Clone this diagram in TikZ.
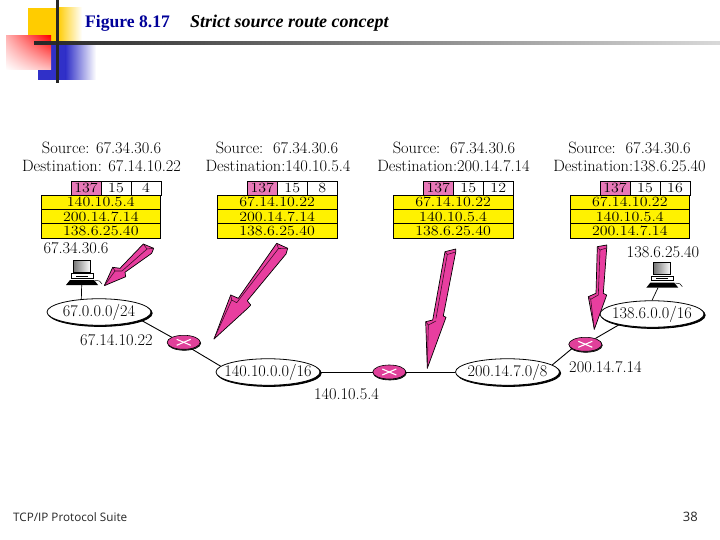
\documentclass[tikz,border=0pt]{standalone}
\usepackage{fontspec}
\usetikzlibrary{shapes.geometric,shadows,shadings}
\newfontfamily\titlefont{Liberation Serif}
\newfontfamily\footfont{Open Sans}
\newfontfamily\widelm[FakeStretch=1.14]{Latin Modern Roman}
\newcommand{\netlabel}[1]{\makebox[0pt]{#1}}
\definecolor{navyt}{HTML}{000099}
\definecolor{cellpink}{HTML}{E878B8}
\definecolor{arrowpink}{HTML}{E83E9F}
\definecolor{rpink}{HTML}{E0409A}
\definecolor{decoy}{HTML}{FFCC00}
\definecolor{decob}{HTML}{3030C8}
\tikzset{
  txt/.style={inner sep=0pt,font=\fontsize{16.4}{16.4}\selectfont},
  cell/.style={draw=black,line width=.8pt,inner sep=0pt,outer sep=0pt,anchor=north west,font=\widelm\fontsize{14}{14}\selectfont},
  opt/.style={cell,minimum width=30pt,minimum height=14pt},
  addr/.style={cell,fill=yellow,minimum width=119.6pt,minimum height=14.3pt},
  net/.style={ellipse,draw=black,fill=white,line width=.8pt,inner sep=0pt,minimum width=104pt,minimum height=26.5pt,
     font=\fontsize{16.3}{16.3}\selectfont,copy shadow={shadow xshift=1.2pt,shadow yshift=-1.2pt,fill=black,draw=black}},
  router/.style={ellipse,draw=black,fill=rpink,line width=.6pt,inner sep=0pt,minimum width=33pt,minimum height=14pt,
     copy shadow={shadow xshift=.5pt,shadow yshift=-1pt,fill=black!80,draw=black}},
  link/.style={draw=black,line width=.9pt},
  bolt/.style={draw=black,fill=arrowpink,line width=.7pt,line join=round},
  ridge/.style={draw=black!75!arrowpink,line width=.6pt},
  xmark/.style={draw=white,line width=1.1pt}
}
\newcommand{\pktable}[6]{%
  \begin{scope}[shift={(#2,181)}]
    \node[opt,fill=cellpink] (#1p) at (30,0) {137};
    \node[opt,fill=white] (#1l) at (60,0) {15};
    \node[opt,fill=white] (#1o) at (90,0) {#3};
    \node[addr] (#1a) at (0,14.2) {#4};
    \node[addr] (#1b) at (0,28.5) {#5};
    \node[addr] (#1c) at (0,42.8) {#6};
  \end{scope}}
\newcommand{\desktop}[3]{%
  \begin{scope}[shift={(#2,#3)}]
    \shade[left color=black!55,right color=white,draw=black,line width=.7pt] (2,0) rectangle (19.5,12);
    \draw[black,line width=.7pt,fill=white] (0,13.5) rectangle (22,18);
    \draw[black,line width=.6pt] (5,15.8) -- (17,15.8);
    \fill[black] (-5,25) -- (-1,20) -- (23,20) -- (27,25) -- cycle;
    \draw[black,line width=.5pt] (24,20.5) .. controls (28,20.5) and (30,21) .. (31,24);
    \coordinate (#1) at (10.7,25);
  \end{scope}}
\newcommand{\routerx}[1]{%
  \draw[xmark] ([xshift=-7pt,yshift=3pt]#1.center) -- ([xshift=7pt,yshift=-3pt]#1.center);
  \draw[xmark] ([xshift=-7pt,yshift=-3pt]#1.center) -- ([xshift=7pt,yshift=3pt]#1.center);}
\begin{document}
\begin{tikzpicture}[x=1pt,y=-1pt]
\useasboundingbox (0,0) rectangle (720,540);
\fill[white] (0,0) rectangle (720,540);
% corner decoration
\fill[decoy] (28,8) rectangle (58,43);
\shade[left color=decoy,right color=white] (57.5,8) rectangle (82,43);
\fill[decob] (38,45) rectangle (66,80);
\shade[left color=decob,right color=white] (65.5,45) rectangle (96,80);
\shade[upper left=red!30,upper right=red,lower left=white,lower right=red!25] (6,36) rectangle (51,70);
\shade[left color=black!85,right color=black!15] (34,41.5) rectangle (720,44.5);
\fill[black!85] (55.5,0) rectangle (58.5,83);
% title
\node[inner sep=0pt,anchor=base west,font=\titlefont\bfseries\fontsize{17.6}{17.6}\selectfont,text=navyt] (fig) at (85,28) {Figure 8.17};
\node[inner sep=0pt,anchor=base west,font=\titlefont\bfseries\itshape\fontsize{18}{18}\selectfont] (cap) at (190,28) {Strict source route concept};
% headers
\node[txt] (s1) at (101.5,148) {Source: 67.34.30.6};
\node[txt] (d1) at (101.5,166) {Destination: 67.14.10.22};
\node[txt] (s2) at (277,148) {Source:\ \ 67.34.30.6};
\node[txt] (d2) at (278,166) {Destination:140.10.5.4};
\node[txt] (s3) at (454,148) {Source:\ \ 67.34.30.6};
\node[txt] (d3) at (453.5,166) {Destination:200.14.7.14};
\node[txt] (s4) at (629.5,148) {Source:\ \ 67.34.30.6};
\node[txt] (d4) at (629.5,166) {Destination:138.6.25.40};
% tables
\pktable{ta}{41}{4}{140.10.5.4}{200.14.7.14}{138.6.25.40}
\pktable{tb}{217.3}{8}{67.14.10.22}{200.14.7.14}{138.6.25.40}
\pktable{tc}{393.3}{12}{67.14.10.22}{140.10.5.4}{138.6.25.40}
\pktable{td}{570}{16}{67.14.10.22}{140.10.5.4}{200.14.7.14}
% network
\node[net] (n1) at (99,312) {\netlabel{67.0.0.0/24}};
\node[net] (n2) at (268,372) {\netlabel{140.10.0.0/16}};
\node[net] (n3) at (507.5,372) {\netlabel{200.14.7.0/8}};
\node[net] (n4) at (652,314) {\netlabel{138.6.0.0/16}};
\node[router] (r1) at (183.7,342.3) {};
\node[router] (r2) at (389.3,372) {};
\node[router] (r3) at (585.3,344.3) {};
\routerx{r1}\routerx{r2}\routerx{r3}
\draw[link] (n1.-11) -- (r1.157);
\draw[link] (r1.-40) -- (n2.173);
\draw[link] (n2.east) -- (r2.west);
\draw[link] (r2.east) -- (n3.west);
\draw[link] (n3.9) -- (r3.198);
\draw[link] (r3.30) -- (n4.198);
% hosts
\desktop{h1}{71}{260}
\desktop{h2}{651.3}{262.7}
\draw[link,line width=.7pt] (h1) -- (n1.144.5);
\draw[link,line width=.7pt] ([xshift=-4pt]h2) -- (n4.north);
% address labels
\node[txt] (l1) at (76,248) {67.34.30.6};
\node[txt] (l2) at (663,252) {138.6.25.40};
\node[txt] (l3) at (116.5,340) {67.14.10.22};
\node[txt] (l4) at (346.5,394) {140.10.5.4};
\node[txt] (l5) at (605.5,367) {200.14.7.14};
% pointer arrows
\draw[bolt] (104.3,285.7) -- (112.7,267.3) -- (120,268.3) -- (143.3,244) -- (153.7,248.3) -- (151.7,253.3) -- (125,272.3) -- (125.7,276.7) -- cycle;
\draw[ridge] (147,249) -- (143.3,244) (147,249) -- (153.7,248.3) (147,249) -- (122,271) (112.7,267.3) -- (115,271) -- (104.3,285.7) (115,271) -- (122,271);
\draw[bolt] (214,339) -- (230.7,295) -- (238.3,298.3) -- (276.7,243.3) -- (287.7,248.3) -- (286,254) -- (247.3,300.7) -- (250.7,305) -- (248.3,307.7) -- cycle;
\draw[ridge] (278.5,248.5) -- (276.7,243.3) (278.5,248.5) -- (287.7,248.3) (278.5,248.5) -- (236.7,302.7) (230.7,295) -- (231.7,300) -- (214,339) (231.7,300) -- (236.7,302.7);
\draw[bolt] (427.3,368.3) -- (425.7,321.7) -- (432.7,320) -- (445,251.7) -- (455.7,249) -- (455.7,252) -- (443.3,316) -- (446,317.3) -- cycle;
\draw[ridge] (447.3,254.5) -- (445,251.7) (447.3,254.5) -- (455.7,252) (447.3,254.5) -- (436,318.3) (425.7,321.7) -- (428.3,325) -- (427.3,368.3) (428.3,325) -- (436,321);
\draw[bolt] (594.3,329.3) -- (588.3,296.7) -- (596,293.3) -- (597.3,246.7) -- (606.7,245) -- (606.7,248) -- (603.3,293.3) -- (606.7,295) -- cycle;
\draw[ridge] (600,250) -- (597.3,246.7) (600,250) -- (606.7,248) (600,250) -- (598.3,295) (588.3,296.7) -- (590.7,299.3) -- (594.3,329.3) (590.7,299.3) -- (598.3,295);
% footer
\node[inner sep=0pt,anchor=base west,font=\footfont\fontsize{11.7}{11.7}\selectfont,text=black!85] (foot) at (13,521) {TCP/IP Protocol Suite};
\node[inner sep=0pt,anchor=base east,font=\footfont\fontsize{13}{13}\selectfont,text=black!85] (page) at (698,521) {38};
\end{tikzpicture}
\end{document}
